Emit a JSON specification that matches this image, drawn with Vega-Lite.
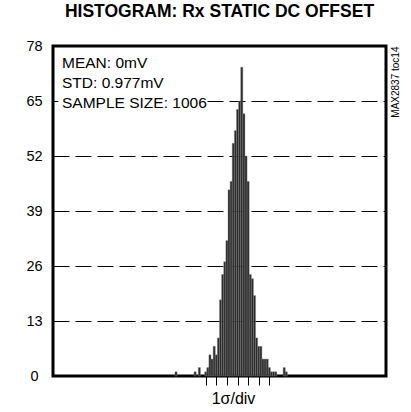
{
  "$schema": "https://vega.github.io/schema/vega-lite/v6.json",
  "width": 333,
  "height": 330,
  "autosize": "none",
  "padding": {"left": 53, "top": 46, "right": 25, "bottom": 36},
  "background": "white",
  "title": {"text": "HISTOGRAM: Rx STATIC DC OFFSET", "font": "Liberation Sans", "fontSize": 17.5, "fontWeight": "bold", "color": "#000", "anchor": "middle", "offset": 18},
  "config": {"view": {"stroke": "#000", "strokeWidth": 3}, "font": "Liberation Sans"},
  "datasets": {
    "bins": [
      {"start": -5.9, "end": -5.7, "count": 1},
      {"start": -4.1, "end": -3.9, "count": 1},
      {"start": -3.7, "end": -3.5, "count": 2},
      {"start": -3.1, "end": -2.9, "count": 1},
      {"start": -2.9, "end": -2.7, "count": 2},
      {"start": -2.7, "end": -2.5, "count": 5},
      {"start": -2.5, "end": -2.3, "count": 4},
      {"start": -2.3, "end": -2.1, "count": 7},
      {"start": -2.1, "end": -1.9, "count": 5},
      {"start": -1.9, "end": -1.7, "count": 9},
      {"start": -1.7, "end": -1.5, "count": 18},
      {"start": -1.5, "end": -1.3, "count": 24},
      {"start": -1.3, "end": -1.1, "count": 27},
      {"start": -1.1, "end": -0.9, "count": 32},
      {"start": -0.9, "end": -0.7, "count": 44},
      {"start": -0.7, "end": -0.5, "count": 46},
      {"start": -0.5, "end": -0.3, "count": 55},
      {"start": -0.3, "end": -0.1, "count": 58},
      {"start": -0.1, "end": 0.1, "count": 63},
      {"start": 0.1, "end": 0.3, "count": 65},
      {"start": 0.3, "end": 0.5, "count": 73},
      {"start": 0.5, "end": 0.7, "count": 62},
      {"start": 0.7, "end": 0.9, "count": 52},
      {"start": 0.9, "end": 1.1, "count": 46},
      {"start": 1.1, "end": 1.3, "count": 24},
      {"start": 1.3, "end": 1.5, "count": 23},
      {"start": 1.5, "end": 1.7, "count": 19},
      {"start": 1.7, "end": 1.9, "count": 9},
      {"start": 1.9, "end": 2.1, "count": 7},
      {"start": 2.1, "end": 2.3, "count": 7},
      {"start": 2.3, "end": 2.5, "count": 4},
      {"start": 2.5, "end": 2.7, "count": 4},
      {"start": 2.7, "end": 2.9, "count": 4},
      {"start": 2.9, "end": 3.1, "count": 2},
      {"start": 3.1, "end": 3.3, "count": 1},
      {"start": 3.3, "end": 3.5, "count": 1},
      {"start": 3.5, "end": 3.7, "count": 1},
      {"start": 4.3, "end": 4.5, "count": 2},
      {"start": 4.5, "end": 4.7, "count": 1}
    ],
    "note": [
      {"line1": "MEAN: 0mV", "line2": "STD: 0.977mV", "line3": "SAMPLE SIZE: 1006"}
    ]
  },
  "resolve": {"axis": {"y": "independent"}},
  "layer": [
    {
      "data": {"name": "bins"},
      "mark": {"type": "rect", "fill": "#2a2a2a", "stroke": "#808080", "strokeWidth": 0.4},
      "encoding": {
        "x": {
          "field": "start", "type": "quantitative",
          "scale": {"domain": [-17.4, 14.0], "nice": false, "zero": false, "padding": 0},
          "axis": {"values": [-3, -2, -1, 0, 1, 2, 3], "labels": false, "ticks": true, "tickSize": 9, "tickColor": "#000", "tickWidth": 1, "domain": false, "grid": false, "title": "1σ/div", "titleFont": "Liberation Sans", "titleFontSize": 16, "titleFontWeight": "normal", "titleColor": "#000", "titlePadding": 5, "titleX": 180}
        },
        "x2": {"field": "end"},
        "y": {
          "field": "count", "type": "quantitative",
          "scale": {"domain": [0, 78], "nice": false, "zero": true, "padding": 0},
          "axis": {"values": [0, 13, 26, 39, 52, 65, 78], "title": null, "labelFont": "Liberation Sans", "labelFontSize": 14.5, "labelColor": "#000", "labelAlign": "center", "labelBaseline": "middle", "labelPadding": 19, "ticks": false, "domain": false, "grid": true, "gridColor": "#000", "gridWidth": 1.2, "gridDash": [16, 6]}
        },
        "y2": {"datum": 0}
      }
    },
    {
      "data": {"name": "note"},
      "mark": {"type": "rect", "fill": "white", "stroke": null},
      "encoding": {
        "x": {"datum": -16.9, "type": "quantitative"},
        "x2": {"datum": -3.1},
        "y": {"datum": 76.5, "type": "quantitative", "axis": null},
        "y2": {"datum": 61.5}
      }
    },
    {
      "data": {"name": "note"},
      "mark": {"type": "text", "align": "left", "baseline": "top", "font": "Liberation Sans", "fontSize": 15.5, "lineHeight": 20, "color": "#000"},
      "encoding": {
        "x": {"datum": -16.55, "type": "quantitative"},
        "y": {"datum": 75.6, "type": "quantitative", "axis": {"orient": "right", "title": "MAX2837 toc14", "titleAngle": 270, "titleAnchor": "end", "titleFont": "Liberation Sans", "titleFontSize": 10, "titleFontWeight": "normal", "titleColor": "#000", "titlePadding": 14, "labels": false, "ticks": false, "domain": false, "grid": false}},
        "text": {"value": ["MEAN: 0mV", "STD: 0.977mV", "SAMPLE SIZE: 1006"]}
      }
    }
  ]
}
